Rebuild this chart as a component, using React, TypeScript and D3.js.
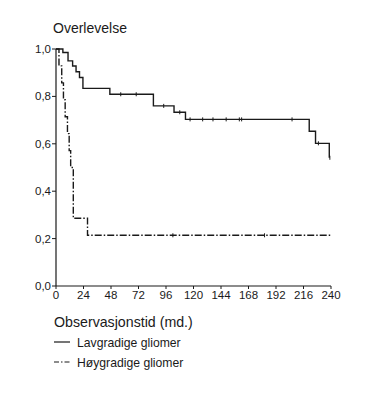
import React from 'react';
import * as d3 from 'd3';

// Kaplan-Meier steps (time in months, survival)
const lowTimes = [0, 6, 10.5, 14.5, 17.5, 20.5, 23.5, 47, 85, 103, 113, 221, 226.5, 238.5];
const lowSurv = [1, 0.985, 0.95, 0.928, 0.904, 0.88, 0.834, 0.809, 0.76, 0.733, 0.703, 0.653, 0.602, 0.541];
const lowCensored = [56.5, 70, 94, 108, 117, 128, 137, 148.5, 160, 162, 206, 229, 239];

const highTimes = [0, 2.6, 5, 6.5, 8, 10, 11.5, 12.8, 15.1, 27.5, 240];
const highSurv = [1, 0.929, 0.857, 0.786, 0.714, 0.643, 0.571, 0.5, 0.286, 0.214, 0.214];
const highCensored = [102, 182];

const xTicks = [0, 24, 48, 72, 96, 120, 144, 168, 192, 216, 240];
const yTicks = [0, 0.2, 0.4, 0.6, 0.8, 1.0];

const yLabel = 'Overlevelse';
const xLabel = 'Observasjonstid (md.)';
const seriesNames = ['Lavgradige gliomer', 'Høygradige gliomer'];

const width = 370;
const height = 415;
const font = '"Liberation Sans", Arial, Helvetica, sans-serif';
const ink = '#1a1a1a';
const dashDot = '7,2,1.5,2';

const App = () => {
  const x = d3.scaleLinear().domain([0, 240]).range([56, 331]);
  const y = d3.scaleLinear().domain([0, 1]).range([286, 49]);

  const line = d3.line<[number, number]>()
    .x(d => x(d[0]))
    .y(d => y(d[1]))
    .curve(d3.curveStepAfter);

  const low = lowTimes.map((t, i) => [t, lowSurv[i]] as [number, number]);
  const high = highTimes.map((t, i) => [t, highSurv[i]] as [number, number]);

  // survival level at a censoring time
  const at = (times: number[], surv: number[], t: number) => {
    const i = d3.bisectRight(times, t) - 1;
    return surv[Math.max(0, i)];
  };

  const fmt = (v: number) => v.toFixed(1).replace('.', ',');

  return (
    <svg width={width} height={height} style={{ position: 'absolute', left: 0, top: 0, background: '#fff' }}
      fontFamily={font}>
      <text x={53} y={33} fontSize={14} fill={ink}>{yLabel}</text>

      {/* axes */}
      <line x1={x(0)} x2={x(0)} y1={y(1)} y2={y(0)} stroke={ink} strokeWidth={1.2} />
      <line x1={x(0)} x2={x(240)} y1={y(0)} y2={y(0)} stroke={ink} strokeWidth={1.2} />
      {yTicks.map(v => (
        <g key={'y' + v}>
          <line x1={x(0) - 4} x2={x(0)} y1={y(v)} y2={y(v)} stroke={ink} strokeWidth={1} />
          <text x={x(0) - 5} y={y(v)} dy="0.35em" textAnchor="end" fontSize={11.5} fill={ink}>{fmt(v)}</text>
        </g>
      ))}
      {xTicks.map(v => (
        <g key={'x' + v}>
          <line x1={x(v)} x2={x(v)} y1={y(0)} y2={y(0) + 3} stroke={ink} strokeWidth={1} />
          <text x={x(v)} y={y(0) + 13} textAnchor="middle" fontSize={11.5} fill={ink}>{v}</text>
        </g>
      ))}

      {/* curves */}
      <path d={line(low) || ''} fill="none" stroke={ink} strokeWidth={1.4} />
      {lowCensored.map(t => {
        const s = at(lowTimes, lowSurv, t);
        return <line key={'lc' + t} x1={x(t)} x2={x(t)} y1={y(s) - 2} y2={y(s) + 2} stroke={ink} strokeWidth={1} />;
      })}
      <path d={line(high) || ''} fill="none" stroke={ink} strokeWidth={1.4} strokeDasharray={dashDot} />
      {highCensored.map(t => {
        const s = at(highTimes, highSurv, t);
        return <line key={'hc' + t} x1={x(t)} x2={x(t)} y1={y(s) - 2} y2={y(s) + 2} stroke={ink} strokeWidth={1} />;
      })}

      {/* legend */}
      <text x={54} y={327} fontSize={14.2} fill={ink}>{xLabel}</text>
      {seriesNames.map((name, i) => (
        <g key={name} transform={`translate(54, ${342 + i * 20})`}>
          <line x1={0} x2={16} y1={0} y2={0} stroke={ink} strokeWidth={1.2}
            strokeDasharray={i === 1 ? '5,2,1.5,2' : undefined} />
          <text x={23} y={4.5} fontSize={12.2} fill={ink}>{name}</text>
        </g>
      ))}
    </svg>
  );
};

export default App;
